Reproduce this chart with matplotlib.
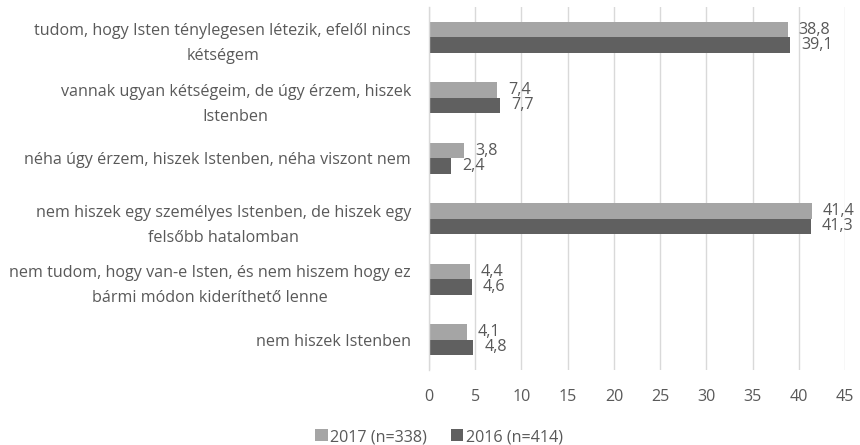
import matplotlib
matplotlib.use("Agg")
import matplotlib.pyplot as plt
import numpy as np

categories = [
    "tudom, hogy Isten ténylegesen létezik, efelől nincs\nkétségem",
    "vannak ugyan kétségeim, de úgy érzem, hiszek\nIstenben",
    "néha úgy érzem, hiszek Istenben, néha viszont nem",
    "nem hiszek egy személyes Istenben, de hiszek egy\nfelsőbb hatalomban",
    "nem tudom, hogy van-e Isten, és nem hiszem hogy ez\nbármi módon kideríthető lenne",
    "nem hiszek Istenben",
]
values_2017 = [38.8, 7.4, 3.8, 41.4, 4.4, 4.1]
values_2016 = [39.1, 7.7, 2.4, 41.3, 4.6, 4.8]
series_names = ["2017 (n=338)", "2016 (n=414)"]
xticks = [0, 5, 10, 15, 20, 25, 30, 35, 40, 45]

plt.rcParams['font.family'] = ['Open Sans', 'DejaVu Sans']
TXT = '#595959'
C17 = '#A5A5A5'
C16 = '#606060'
GRID = '#D9D9D9'
FS = 11.6

fig = plt.figure(figsize=(8.6, 4.45), dpi=100)
ax = fig.add_axes([429/860, 1-370/445, (845-429)/860, (370-7)/445])

n = len(categories)
y = np.arange(n)
h = 0.255
b1 = ax.barh(y - h/2, values_2017, height=h, color=C17, label=series_names[0], zorder=3)
b2 = ax.barh(y + h/2, values_2016, height=h, color=C16, label=series_names[1], zorder=3)

def fmt(v):
    return f"{v:.1f}".replace('.', ',')

for bars, vals in ((b1, values_2017), (b2, values_2016)):
    for rect, v in zip(bars, vals):
        ax.annotate(fmt(v), (rect.get_width(), rect.get_y() + rect.get_height()/2),
                    xytext=(11, 0), textcoords='offset pixels', ha='left', va='center',
                    fontsize=FS, color=TXT)

ax.set_ylim(n - 0.5, -0.5)
ax.set_xlim(0, 45)
ax.set_xticks(xticks)
ax.set_xticklabels([str(t) for t in xticks])
ax.set_yticks(y)
ax.set_yticklabels(categories, multialignment='center', linespacing=1.75)
ax.tick_params(axis='both', length=0, colors=TXT, labelsize=FS)
ax.tick_params(axis='y', pad=13)
ax.tick_params(axis='x', pad=14)
ax.grid(axis='x', color=GRID, linewidth=1, zorder=0)
for s in ['top', 'right', 'bottom']:
    ax.spines[s].set_visible(False)
ax.spines['left'].set_color(GRID)
ax.spines['left'].set_linewidth(1)
ax.spines['left'].set_zorder(4)

fig.legend(handles=[b1, b2], labels=series_names, loc='center', bbox_to_anchor=(439/860, 1-437/445),
           ncol=2, frameon=False, fontsize=FS, labelcolor=TXT, handlelength=0.75, handleheight=0.75,
           handletextpad=0.15, columnspacing=1.5)

fig.savefig("out.png", dpi=100)
